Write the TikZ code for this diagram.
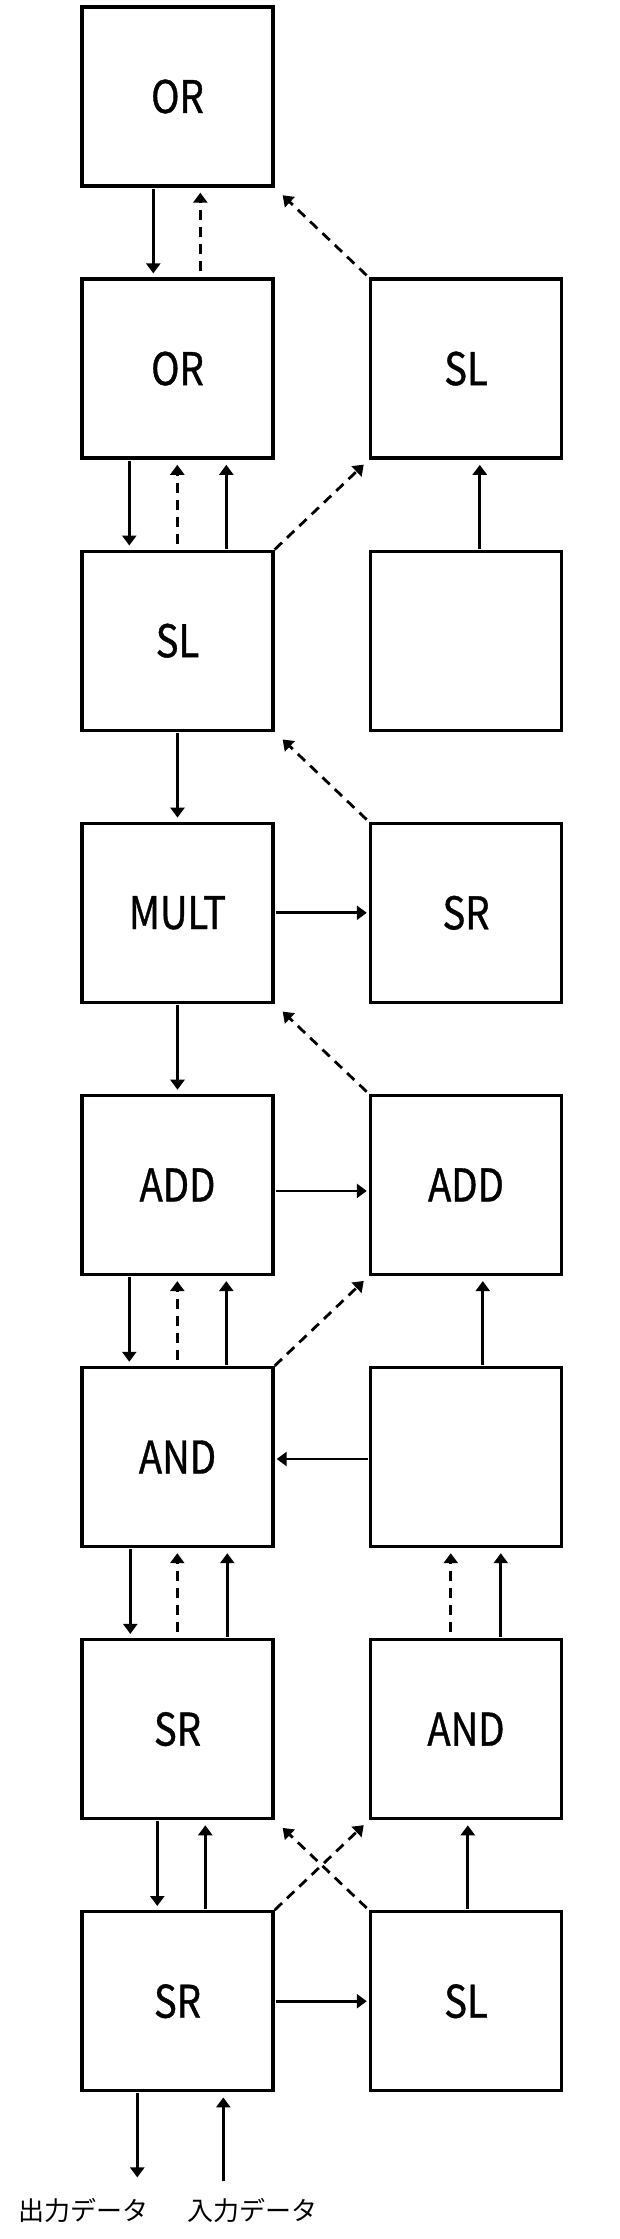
\documentclass[tikz,border=0pt]{standalone}
\usepackage{fontspec}
\newfontfamily\boxfont[FakeStretch=0.85,FakeBold=0.8]{Noto Sans CJK JP}
\newfontfamily\jpfont{Noto Sans CJK JP}
\usetikzlibrary{arrows.meta}
\tikzset{
  blk/.style={draw, line width=3.4pt, minimum width=191pt, minimum height=179pt, inner sep=0pt,
    font=\boxfont\fontsize{45}{50}\selectfont},
  arr/.style={line width=2.8pt, -{Triangle[width=14pt,length=10pt]}},
  dsh/.style={dash pattern=on 10pt off 7pt},
  dn/.style={arr, shorten <=1pt, shorten >=4pt},
  upd/.style={arr, dsh, shorten <=6pt, shorten >=5pt},
  ups/.style={arr, shorten <=1pt, shorten >=5pt},
  hz/.style={arr, shorten <=1pt, shorten >=2pt},
  diagL/.style={arr, dsh, shorten <=3pt, shorten >=11pt},
  diagR/.style={arr, dsh, shorten <=0pt, shorten >=7pt},
  lbl/.style={font=\jpfont\fontsize{26}{30}\selectfont, inner sep=0pt}
}
\begin{document}
\begin{tikzpicture}[x=1pt,y=-1pt]
\useasboundingbox (0,0) rectangle (620,2239);
\fill[white] (0,0) rectangle (620,2239);
% boxes
\node[blk] (L0) at (177.5,96.5) {OR};
\node[blk] (L1) at (177.5,368.6) {OR};
\node[blk] (R1) at (466,368.6) {SL};
\node[blk] (L2) at (177.5,640.7) {SL};
\node[blk] (R2) at (466,640.7) {};
\node[blk] (L3) at (177.5,912.8) {MULT};
\node[blk] (R3) at (466,912.8) {SR};
\node[blk] (L4) at (177.5,1184.9) {ADD};
\node[blk] (R4) at (466,1184.9) {ADD};
\node[blk] (L5) at (177.5,1457) {AND};
\node[blk] (R5) at (466,1457) {};
\node[blk] (L6) at (177.5,1729.1) {SR};
\node[blk] (R6) at (466,1729.1) {AND};
\node[blk] (L7) at (177.5,2001.2) {SR};
\node[blk] (R7) at (466,2001.2) {SL};
% row 0-1
\draw[dn] ([xshift=73pt]L0.south west) -- ([xshift=73pt]L1.north west);
\draw[upd] ([xshift=120pt]L1.north west) -- ([xshift=120pt]L0.south west);
\draw[diagL] (R1.north west) -- (L0.south east);
% row 1-2
\draw[dn] ([xshift=49pt]L1.south west) -- ([xshift=49pt]L2.north west);
\draw[upd] ([xshift=97pt]L2.north west) -- ([xshift=97pt]L1.south west);
\draw[ups] ([xshift=146pt]L2.north west) -- ([xshift=146pt]L1.south west);
\draw[diagR] (L2.north east) -- (R1.south west);
\draw[ups] ([xshift=111pt]R2.north west) -- ([xshift=111pt]R1.south west);
% row 2-3
\draw[dn] (L2.south) -- (L3.north);
\draw[diagL] (R3.north west) -- (L2.south east);
% row 3
\draw[hz] (L3.east) -- (R3.west);
% row 3-4
\draw[dn] (L3.south) -- (L4.north);
\draw[diagL] (R4.north west) -- (L3.south east);
% row 4
\draw[hz] ([yshift=-6pt]L4.east) -- ([yshift=-6pt]R4.west);
% row 4-5
\draw[dn] ([xshift=49pt]L4.south west) -- ([xshift=49pt]L5.north west);
\draw[upd] ([xshift=97pt]L5.north west) -- ([xshift=97pt]L4.south west);
\draw[ups] ([xshift=146pt]L5.north west) -- ([xshift=146pt]L4.south west);
\draw[diagR] (L5.north east) -- (R4.south west);
\draw[ups] ([xshift=114pt]R5.north west) -- ([xshift=114pt]R4.south west);
% row 5
\draw[hz] ([yshift=-2pt]R5.west) -- ([yshift=-2pt]L5.east);
% row 5-6
\draw[dn] ([xshift=50pt]L5.south west) -- ([xshift=50pt]L6.north west);
\draw[upd] ([xshift=97pt]L6.north west) -- ([xshift=97pt]L5.south west);
\draw[ups] ([xshift=147pt]L6.north west) -- ([xshift=147pt]L5.south west);
\draw[upd] ([xshift=82pt]R6.north west) -- ([xshift=82pt]R5.south west);
\draw[ups] ([xshift=132pt]R6.north west) -- ([xshift=132pt]R5.south west);
% row 6-7
\draw[dn] ([xshift=77pt]L6.south west) -- ([xshift=77pt]L7.north west);
\draw[ups] ([xshift=125pt]L7.north west) -- ([xshift=125pt]L6.south west);
\draw[diagR] (L7.north east) -- (R6.south west);
\draw[diagL] (R7.north west) -- (L6.south east);
\draw[ups] ([xshift=99pt]R7.north west) -- ([xshift=99pt]R6.south west);
% row 7
\draw[hz] (L7.east) -- (R7.west);
% output / input
\coordinate (oend) at ([xshift=57pt,yshift=-85pt]L7.south west);
\coordinate (istart) at ([xshift=143pt,yshift=-90pt]L7.south west);
\draw[arr, shorten <=1pt] ([xshift=57pt]L7.south west) -- (oend);
\draw[ups] (istart) -- ([xshift=143pt]L7.south west);
\node[lbl] (olbl) at (83,2210) {出力データ};
\node[lbl] (ilbl) at (252,2210) {入力データ};
\end{tikzpicture}
\end{document}
